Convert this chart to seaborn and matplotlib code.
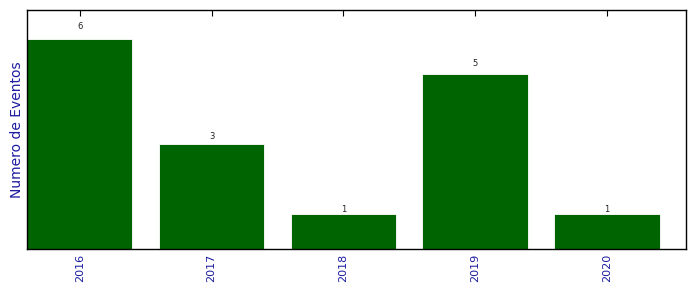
import matplotlib
matplotlib.use("Agg")
import matplotlib.pyplot as plt
import seaborn as sns
import pandas as pd

years = ["2016", "2017", "2018", "2019", "2020"]
events = [6, 3, 1, 5, 1]

sns.set_style("white")
plt.rcParams['font.family'] = ['DejaVu Sans']

df = pd.DataFrame({"year": years, "events": events})

fig = plt.figure(figsize=(6.96, 2.92), dpi=100)
ax = fig.add_axes([27/696, 1-249/292, (686-27)/696, (249-10)/292])

sns.barplot(data=df, x="year", y="events", color="#006400", saturation=1,
            edgecolor="white", linewidth=0.6, width=0.8, ax=ax)

for i, v in enumerate(events):
    ax.text(i, v*1.05, str(v), ha="center", va="baseline", fontsize=6, color="#222222")

ax.set_xlim(-0.4, 4.6)
ax.set_ylim(0, max(events)*1.14)
ax.set_yticks([])
ax.set_xlabel("")
ax.set_ylabel("Numero de Eventos", color="#1c1ca0", fontsize=10, labelpad=2)
ax.tick_params(axis="x", direction="in", length=4, width=0.8, top=True, bottom=True,
               labelcolor="#1c1ca0", labelsize=8, labelrotation=90, color="black", pad=3.5)
for s in ax.spines.values():
    s.set_visible(True)
    s.set_color("black")
    s.set_linewidth(1)

fig.savefig("out.png", dpi=100)
